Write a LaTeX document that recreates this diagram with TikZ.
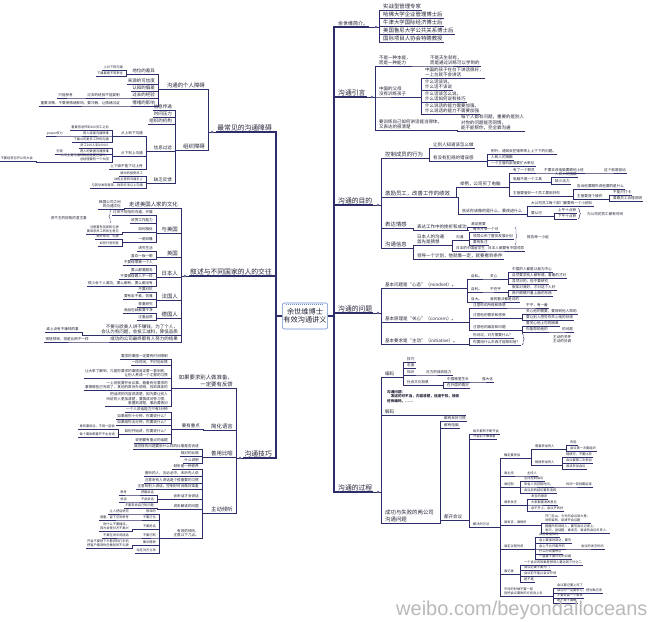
\documentclass[tikz,border=0pt]{standalone}
\usepackage{fontspec}
\setmainfont{Noto Sans CJK SC}
\newfontfamily\wmfont{Liberation Sans}
\usetikzlibrary{decorations.pathreplacing}
\definecolor{lc}{RGB}{45,45,105}
\definecolor{ink}{RGB}{35,35,55}
\definecolor{boxc}{RGB}{105,140,205}
\begin{document}
\begin{tikzpicture}[x=1pt, y=-1pt,
  rn/.style={anchor=south west, inner xsep=1pt, inner ysep=0.6pt, align=left, text=ink},
  ln/.style={anchor=south east, inner xsep=1pt, inner ysep=0.6pt, align=right, text=ink},
  fA/.style={font=\fontsize{6.8}{8}\selectfont},
  fB/.style={font=\fontsize{5.4}{7}\selectfont},
  fC/.style={font=\fontsize{4.5}{5.6}\selectfont},
  fD/.style={font=\fontsize{3.6}{4.8}\selectfont},
  fE/.style={font=\fontsize{3.2}{4.3}\selectfont},
  tk/.style={draw=lc, line width=1.3pt},
  lk/.style={draw=lc, line width=0.7pt},
  tn/.style={draw=lc, line width=0.4pt},
  br/.style={draw=lc, line width=0.4pt, decorate, decoration={brace, amplitude=2pt}}]
\useasboundingbox (0,0) rectangle (658,621);
% centre
\node[draw=boxc, line width=0.6pt, rounded corners=2pt, fill=white, minimum width=44pt, minimum height=26pt, inner sep=1pt, align=center, text=ink, font=\fontsize{7.2}{8}\selectfont] (ctr) at (305,316) {余世维博士\\有效沟通讲义};
\draw[boxc, line width=1pt, dash pattern=on 1pt off 1pt] ([xshift=4pt,yshift=-2pt]ctr.north west) -- ([xshift=-4pt,yshift=-2pt]ctr.north east);
% main branches
\node[rn,font=\fontsize{5}{6}\selectfont] (m1) at (337,27) {余世维简介。};
\node[rn,fA] (m2) at (337,97) {沟通引言};
\node[rn,fA] (m3) at (337,205) {沟通的目的};
\node[rn,fA] (m4) at (337,313) {沟通的问题};
\node[rn,fA] (m5) at (337,492) {沟通的过程};
\node[ln,fA] (n1) at (273,132) {最常见的沟通障碍};
\node[ln,fA] (n2) at (273,276) {叙述与不同国家的人的交往};
\node[ln,fA] (n3) at (273,458) {沟通技巧};
\foreach \ch in {m1,m2,m3,m4,m5} \draw[tk] (ctr.east) -| ([xshift=-3pt]\ch.south west) -- (\ch.south east);
\foreach \ch in {n1,n2,n3} \draw[tk] (ctr.west) -| ([xshift=3pt]\ch.south east) -- (\ch.south west);
% 余世维简介
\node[rn,fB] (m1a) at (382,10) {实战型管理专家};
\node[rn,fB] (m1b) at (382,18) {哈佛大学企业管理博士后};
\node[rn,fB] (m1c) at (382,26) {牛津大学国际经济博士后};
\node[rn,fB] (m1d) at (382,34) {美国鲁尼大学公共关系博士后};
\node[rn,fB] (m1e) at (382,42) {国际项目人协会特聘教授};
% 沟通引言
\node[rn,fC] (m2a) at (378,66) {不是一种本能，\\而是一种能力};
\node[rn,fC] (m2a1) at (429,66) {不是天生就有，\\而是通过训练可以学到的};
\node[rn,fC] (m2b) at (378,97) {中国的父母\\没有训练孩子};
\node[rn,fC] (m2b1) at (424,78) {中国的孩子在台下讲话很好，\\一上台就不会讲话};
\node[rn,fC] (m2b2) at (424,90) {什么话该说，\\什么话不该说};
\node[rn,fC] (m2b3) at (424,102) {什么话该怎么说，\\什么话如何说有技巧};
\node[rn,fC] (m2b4) at (424,114) {什么说话的能力需要加强，\\什么说话的能力不需要加强};
\node[rn,fC] (m2c) at (378,130) {要训练自己如何讲话能当得体，\\又表达的很清楚};
\node[rn,fC] (m2c1) at (460,131) {每个人都有问题，重要的是别人\\对你的问题能否同情，\\能不能帮你，完全靠沟通};
% 沟通的目的
\node[rn,fB] (m3a) at (384,158) {控制成员的行为};
\node[rn,fC] (m3a1) at (432,148) {让别人知道该怎么做};
\node[rn,fC] (m3a2) at (432,161) {有没有犯规的错误感};
\node[rn,fD] (m3a2a) at (490,154) {例外，通常会犯错带来上上下下的问题。};
\node[rn,fD] (m3a2b) at (490,160) {人和人的接触};
\node[rn,fD] (m3a2c) at (490,166) {一个主管的部落要扩大单位};
\node[rn,fB] (m3b) at (384,197) {激励员工，改善工作的绩效};
\node[rn,fC] (m3b1) at (459,187) {举例，公司买了电脑};
\node[rn,fD] (m3b1a) at (512,173) {有了一个职员};
\node[rn,fD] (m3b1a1) at (543,173) {不要去改电脑要跟他上班};
\node[rn,fD] (m3b1a2) at (603,173) {这个就是驱动};
\node[rn,fD] (m3b1b) at (512,182) {电脑不是一个工具};
\node[rn,fD] (m3b1b1) at (554,177) {人和人的接触};
\node[rn,fD] (m3b1b2) at (554,184) {缺少活力};
\node[rn,fD] (m3b1c) at (512,196) {主管要管好一个员工要用好你};
\node[rn,fD] (m3b1c1) at (576,189) {告诉他要跟你说他要的是什么};
\node[rn,fD] (m3b1c2) at (576,199) {主管要逐个操作};
\node[rn,fD] (m3b1c2a) at (612,195) {不能只打卡};
\node[rn,fD] (m3b1c2b) at (612,201) {要跟员工合理说明};
\node[rn,font=\fontsize{4}{5}\selectfont] (m3b2) at (461,214) {告诉你该做的是什么，要改进什么};
\node[rn,fD] (m3b2a) at (530,206) {大公司员工每个部门都要有一个小团队};
\node[rn,fD] (m3b2b) at (530,216) {要认可};
\node[rn,fD] (m3b2b1) at (557,213) {上午十点钟};
\node[rn,fD] (m3b2b2) at (557,219) {下午十点钟};
\node[rn,fD] (m3b2c) at (586,217) {为公司的员工都有时间};
\node[rn,fB] (m3c) at (384,228) {表达情感};
\node[rn,fC] (m3c1) at (416,230) {表达工作中的挫折和成功};
\node[rn,fD] (m3c1a) at (470,227) {满足需要};
\node[rn,fB] (m3d) at (384,248) {沟通信息};
\node[rn,fC] (m3d1) at (416,245) {日本人的沟通\\首先是猜想};
\node[rn,fD] (m3d1a) at (455,240) {沟通};
\node[rn,fD] (m3d1a1) at (472,232) {每天开会一个月};
\node[rn,fD] (m3d1a2) at (472,239) {领导公布了整体发展计划};
\node[rn,fD] (m3d1a3) at (472,245) {要有批注};
\node[rn,fD] (m3d1b) at (526,240) {报告单一小组};
\node[rn,fD] (m3d1c) at (455,251) {日本的中国留学生};
\node[rn,fD] (m3d1c1) at (487,251) {日本人都要有中国领导};
\node[rn,fC] (m3d2) at (416,259) {领导一个计划，他就像一定，就要看到条件};
% 沟通的问题
\node[rn,fC] (m4a) at (384,288) {基本问题是“心态”（mindset）。};
\node[rn,fD] (m4a1) at (470,279) {自私。};
\node[rn,fD] (m4a1a) at (489,279) {关心};
\node[rn,fD] (m4a1a1) at (511,272) {中国的人都是以我为中心};
\node[rn,fD] (m4a1a2) at (511,278) {自然要求别人都有情，看看的才对};
\node[rn,fD] (m4a1a3) at (511,284) {显然对的，但不要研究};
\node[rn,fD] (m4a2) at (470,292) {自利。};
\node[rn,fD] (m4a2a) at (489,292) {不在乎};
\node[rn,fD] (m4a2a1) at (511,290) {假如对我好，才对这个人好};
\node[rn,fD] (m4a2a2) at (511,296) {两只眼睛只看上面的东西};
\node[rn,fD] (m4a3) at (470,302) {自大。};
\node[rn,fD] (m4a3a) at (489,302) {我的看法都是对的};
\node[rn,fC] (m4b) at (384,322) {基本原理是“关心”（concern）。};
\node[rn,fD] (m4b1) at (472,308) {注意你的所得和情感};
\node[rn,fD] (m4b1a) at (525,308) {不平，有一番};
\node[rn,fD] (m4b2) at (472,318) {注意他的需求和感受};
\node[rn,fD] (m4b2a) at (525,314) {关心他的需要，要得到他人帮助};
\node[rn,fD] (m4b2b) at (525,320) {要让别人感觉你关心他的处境};
\node[rn,fD] (m4b3) at (472,330) {注意他的痛苦和问题};
\node[rn,fD] (m4b3a) at (525,326) {要关心他上司的困难};
\node[rn,fD] (m4b3b) at (525,332) {你能帮助他的};
\node[rn,fD] (m4b3b1) at (561,332) {的问题};
\node[rn,fC] (m4c) at (384,344) {基本要求是“主动”（initiative）。};
\node[rn,fD] (m4c1) at (472,338) {你问过，对方需要什么？};
\node[rn,fD] (m4c2) at (472,345) {你要用什么东西才能帮到他？};
\node[rn,fD] (m4c3) at (552,344) {主动的关怀\\主动的协调};
% 沟通的过程
\node[rn,fC] (m5a) at (384,377) {编码};
\node[rn,fD] (m5a1) at (406,362) {技巧};
\node[rn,fD] (m5a2) at (406,368) {态度};
\node[rn,fD] (m5a3) at (406,375) {知识};
\node[rn,fD] (m5a3a) at (425,375) {对方的接收能力};
\node[rn,fD] (m5a4) at (406,385) {社会文化背景};
\node[rn,fD] (m5a4a) at (446,382) {中国哪里生长};
\node[rn,fD] (m5a4a1) at (481,382) {强大化};
\node[rn,fD] (m5a4b) at (446,388) {在外国的情况};
\node[rn,font=\fontsize{3.6}{4.8}\selectfont\bfseries] (m5n) at (386,404) {沟通问题：\\\quad 发送的可不当，内容清楚，信道干扰，接收\\还有编码，……};
\node[rn,fC,text width=80pt] (m5b) at (384,415) {解码};
\node[rn,fB] (m5c) at (384,523) {成功与失败的两公司\\沟通问题};
\node[rn,fD] (m5c1) at (443,421) {都有良好习惯};
\node[rn,fD] (m5c2) at (443,428) {都有电脑};
\node[rn,fC] (m5c3) at (443,520) {都开会议};
\node[rn,fE] (m5c3a) at (472,434) {每天都有不断开会};
\node[rn,fE] (m5c3b) at (472,439) {开会前不做准备};
\node[rn,fE] (m5c3c) at (472,527) {解决的方法};
\node[rn,fE] (s1) at (503,458) {确定要参加};
\node[rn,fE] (s1a) at (534,449) {需要参加的人};
\node[rn,fE] (s1a1) at (569,445) {有用};
\node[rn,fE] (s1a2) at (569,451) {会议第一次要组织};
\node[rn,fE] (s1b) at (534,465) {随便参加的人};
\node[rn,fE] (s1b1) at (565,457) {随便可，不要比较};
\node[rn,fE] (s1b2) at (565,463) {会议要第二次参加};
\node[rn,fE] (s1b3) at (565,469) {谁该参加会议};
\node[rn,fE] (s2) at (503,476) {谁主持};
\node[rn,fE] (s2a) at (526,476) {主持人};
\node[rn,fE] (s3) at (503,487) {谁控制};
\node[rn,fE] (s3a) at (523,481) {主持控制会议};
\node[rn,fE] (s3b) at (523,487) {参会人员控制时间，};
\node[rn,fE] (s3b1) at (565,487) {时间一到就要结束};
\node[rn,fE] (s3c) at (523,493) {会议后的结论要有追踪};
\node[rn,fE] (s4) at (503,505) {谁来发言};
\node[rn,fE] (s4a) at (530,499) {发言的顺序};
\node[rn,fE] (s4b) at (530,505) {大家都要发表意见};
\node[rn,fE] (s4c) at (530,511) {会不开上，会议开的好};
\node[rn,fE] (s5) at (503,525) {谁发言，谁倾听};
\node[rn,fE] (s5a) at (544,523) {开门见山，今天的会议讲大意，\\说明目的，讲清开会议题};
\node[rn,fE] (s5b) at (544,533) {提醒所有到场人，要写会议记录上，\\发问，讲话题，谁发言，谁讲的会议负责人。};
\node[rn,fE] (s6) at (503,549) {谁定议程时间};
\node[rn,fE] (s6a) at (538,537) {会前要通知的};
\node[rn,fE] (s6b) at (538,543) {会上要准时到达，要先};
\node[rn,fE] (s6c) at (538,549) {会上不允许离开的};
\node[rn,fE] (s6c1) at (580,549) {会议的发言时间};
\node[rn,fE] (s6d) at (538,554) {什么时间要停止};
\node[rn,fE] (s6e) at (538,559) {一直要不要讨论的问题};
\node[rn,fE] (s7) at (503,574) {谁记录};
\node[rn,fE] (s7a) at (523,565) {一个会议的效果是领导人要达到三分之二};
\node[rn,fE] (s7b) at (523,570) {会议必要不要开门};
\node[rn,fE] (s7c) at (523,576) {会议前不能以会议开场};
\node[rn,fE] (s7d) at (523,582) {是不是};
\node[rn,fE] (s8) at (503,596) {平时的时候不要一回\\就把会议要改的方向向上去};
\node[rn,fE] (s8a) at (556,588) {会议要记要上司了};
\node[rn,fE] (s8b) at (556,593) {会议时一定要参与，把对象应该};
\node[rn,fE] (s8c) at (556,598) {不要安装一个板状};
\node[rn,fE] (s8d) at (556,603) {是不是不要做};
% right links
\foreach \pa/\ch in {m1/m1a,m1/m1b,m1/m1c,m1/m1d,m1/m1e,m2/m2a,m2/m2b,m2/m2c,m3/m3a,m3/m3b,m3/m3c,m3/m3d,
  m4/m4a,m4/m4b,m4/m4c,m5/m5a,m5/m5b,m5/m5c}
  \draw[lk] (\pa.south east) -| ([xshift=-2.5pt]\ch.south west) -- (\ch.south east);
\foreach \pa/\ch in {m2a/m2a1,m2b/m2b1,m2b/m2b2,m2b/m2b3,m2b/m2b4,m2c/m2c1,
  m3a/m3a1,m3a/m3a2,m3a2/m3a2a,m3a2/m3a2b,m3a2/m3a2c,m3b/m3b1,m3b/m3b2,m3b1/m3b1a,m3b1/m3b1b,m3b1/m3b1c,
  m3b1a/m3b1a1,m3b1a1/m3b1a2,m3b1b/m3b1b1,m3b1b/m3b1b2,m3b1c/m3b1c1,m3b1c/m3b1c2,m3b1c2/m3b1c2a,m3b1c2/m3b1c2b,
  m3b2/m3b2a,m3b2/m3b2b,m3b2b/m3b2b1,m3b2b/m3b2b2,m3c/m3c1,m3c1/m3c1a,m3d/m3d1,m3d/m3d2,m3d1/m3d1a,m3d1/m3d1c,
  m3d1a/m3d1a1,m3d1a/m3d1a2,m3d1a/m3d1a3,m3d1c/m3d1c1}
  \draw[tn] (\pa.south east) -| ([xshift=-2.5pt]\ch.south west) -- (\ch.south east);
\foreach \pa/\ch in {m4a/m4a1,m4a/m4a2,m4a/m4a3,m4a1/m4a1a,m4a1a/m4a1a1,m4a1a/m4a1a2,m4a1a/m4a1a3,m4a2/m4a2a,
  m4a2a/m4a2a1,m4a2a/m4a2a2,m4a3/m4a3a,m4b/m4b1,m4b/m4b2,m4b/m4b3,m4b1/m4b1a,m4b2/m4b2a,m4b2/m4b2b,
  m4b3/m4b3a,m4b3/m4b3b,m4b3b/m4b3b1,m4c/m4c1,m4c/m4c2,
  m5a/m5a1,m5a/m5a2,m5a/m5a3,m5a/m5a4,m5a3/m5a3a,m5a4/m5a4a,m5a4/m5a4b,m5a4a/m5a4a1,
  m5c/m5c1,m5c/m5c2,m5c/m5c3,m5c3/m5c3a,m5c3/m5c3b,m5c3/m5c3c}
  \draw[tn] (\pa.south east) -| ([xshift=-2.5pt]\ch.south west) -- (\ch.south east);
\foreach \pa/\ch in {m5c3c/s1,m5c3c/s2,m5c3c/s3,m5c3c/s4,m5c3c/s5,m5c3c/s6,m5c3c/s7,m5c3c/s8,
  s1/s1a,s1/s1b,s1a/s1a1,s1a/s1a2,s1b/s1b1,s1b/s1b2,s1b/s1b3,s2/s2a,s3/s3a,s3/s3b,s3/s3c,s3b/s3b1,
  s4/s4a,s4/s4b,s4/s4c,s5/s5a,s5/s5b,s6/s6a,s6/s6b,s6/s6c,s6/s6d,s6/s6e,s6c/s6c1,
  s7/s7a,s7/s7b,s7/s7c,s7/s7d,s8/s8a,s8/s8b,s8/s8c,s8/s8d}
  \draw[tn] (\pa.south east) -| ([xshift=-2.5pt]\ch.south west) -- (\ch.south east);
\draw[br] ([xshift=1pt]m3b2b1.north east) -- ([xshift=1pt]m3b2b2.south east);
\draw[br] ([xshift=1pt]m3d1a2.east |- m3d1a1.north) -- ([xshift=1pt]m3d1a2.east |- m3d1a3.south);
\draw[br] ([xshift=1pt]m4c2.east |- m4c1.north) -- ([xshift=1pt]m4c2.south east);
% 最常见的沟通障碍
\node[ln,fB] (n1a) at (206,89) {沟通的个人障碍};
\node[ln,fC] (n1a1) at (156,74) {地位的差异};
\node[ln,fE] (n1a1a) at (124,70) {上对下的沟通};
\node[ln,fE] (n1a1b) at (124,76) {下属要是不常来往};
\node[ln,fC] (n1a2) at (156,84) {来源的可信度};
\node[ln,fC] (n1a3) at (156,91) {认知的偏差};
\node[ln,fC] (n1a4) at (156,98) {过去的经验};
\node[ln,fD] (n1a4a) at (121,98) {过去的经验不能复制};
\node[ln,fD] (n1a4b) at (74,98) {只能参考};
\node[ln,fC] (n1a5) at (156,106) {情绪的影响};
\node[ln,fD] (n1a5a) at (121,106) {重要决策，不要受情绪影响，要冷静，让情绪沉淀};
\node[ln,fB] (n1b) at (206,150) {组织障碍};
\node[ln,fC] (n1b1) at (173,110) {信息传递};
\node[ln,fC] (n1b2) at (173,117) {时间压力};
\node[ln,fC] (n1b3) at (173,124) {组织的机构};
\node[ln,fC] (n1b4) at (173,151) {信息过滤};
\node[ln,fD] (n1b4a) at (144,136) {从上到下沟通};
\node[ln,fE] (n1b4a1) at (110,130) {重要信息传到100员工之后};
\node[ln,fE] (n1b4a2) at (110,136) {两人距离沟通很难};
\node[ln,fE] (n1b4a2a) at (64,136) {power权力};
\node[ln,fE] (n1b4a3) at (110,142) {下属公司更多工作的沟通};
\node[ln,fD] (n1b4b) at (144,156) {从下到上沟通};
\node[ln,fE] (n1b4b1) at (110,148) {员工100人到1000人};
\node[ln,fE] (n1b4b2) at (110,154) {两人的数据沟通很难};
\node[ln,fE] (n1b4b2a) at (64,154) {无视};
\node[ln,fE] (n1b4b3) at (110,162) {公司主要沟通的数据是要在高时，\\总经理要有一个大团};
\node[ln,fE] (n1b4b3a) at (34,161) {不要经常召开公司大会};
\node[ln,fD] (n1b4c) at (144,169) {上下级不能下达上传};
\node[ln,fC] (n1b5) at (173,183) {缺乏反馈};
\node[ln,fE] (n1b5a) at (144,176) {被动的接受员工};
\node[ln,fE] (n1b5b) at (144,182) {训练主管的沟通手上};
\node[ln,fE] (n1b5c) at (144,188) {与其中发现是非，找到方法以上沟通};
% 叙述与不同国家的人的交往
\node[ln,fB] (n2a) at (179,208) {走进美国人家的文化};
\node[ln,fD] (n2a1) at (122,209) {韩国公司之间\\的沟通文化};
\node[ln,fB] (n2b) at (179,233) {与美国};
\node[ln,fD] (n2b1) at (154,215) {讨厌不规范的沟通，开展};
\node[ln,fD] (n2b1a) at (88,221) {讲不主的规矩的意主事};
\node[ln,fD] (n2b2) at (154,223) {欣赏工作能力};
\node[ln,fD] (n2b3) at (154,232) {如何相处};
\node[ln,fE] (n2b3a) at (120,234) {注意要有创新和礼貌\\要讲求员工的民主意见};
\node[ln,fD] (n2b4) at (154,242) {一箭双雕};
\node[ln,fE] (n2b4a) at (120,239) {美好想法，礼貌};
\node[ln,fE] (n2b4b) at (120,246) {如何行进同者};
\node[ln,fB] (n2c) at (179,257) {英国};
\node[ln,fD] (n2c1) at (154,251) {讲究生活};
\node[ln,fD] (n2c2) at (154,259) {喜欢一板一眼};
\node[ln,fB] (n2d) at (179,277) {日本人};
\node[ln,fD] (n2d1) at (154,265) {不要得罪第一个人};
\node[ln,fD] (n2d2) at (154,273) {要么都要服务};
\node[ln,fD] (n2d3) at (154,279) {不要做得跟人不一样};
\node[ln,fD] (n2d4) at (154,286) {很少会个人邀功，要么都有，要么都没有};
\node[ln,fB] (n2e) at (179,300) {法国人};
\node[ln,fD] (n2e1) at (154,292) {不要对抗};
\node[ln,fD] (n2e2) at (154,299) {要有条不紊，优雅};
\node[ln,fD] (n2e3) at (154,307) {尊重研究};
\node[ln,fB] (n2f) at (179,318) {德国人};
\node[ln,fD] (n2f1) at (154,313) {商品包装都要干净};
\node[ln,fD] (n2f2) at (154,320) {注重品质};
\node[ln,fC] (n2g) at (179,335) {不要与欧美人讲不赚钱，为了个人，\\会认为有问题，会投工减料，降低品质};
\node[ln,fD] (n2g1) at (80,332) {桌上没有不赚钱的事};
\node[ln,fC] (n2h) at (179,342) {成功的公司最终都有人努力的结果};
\node[ln,fD] (n2h1) at (90,342) {很轻视钱，但是比例不一样};
% 沟通技巧
\node[ln,fB] (n3a) at (234,388) {如果要求别人做准备，\\一定要有反馈};
\node[ln,fD] (n3a1) at (169,359) {要求的事情一定要有时间限制};
\node[ln,fD] (n3a2) at (169,365) {一段时间，不时地反馈};
\node[ln,fD] (n3a3) at (169,378) {让大家了解到，凡是你要求的事情肯定要一直到底，\\让别人养成一个汇报的习惯};
\node[ln,fD] (n3a4) at (169,390) {一上班就要开会议事，看看有无要求的\\事情哪些已完成了，其他的再另外说明，找到具体的};
\node[ln,fD] (n3a5) at (169,406) {把话讲的内容说清楚，因为要让别人\\听说的人更加清楚，要搞成问答习惯，\\掌握到清楚，事后要再问};
\node[ln,fB] (n3b) at (234,430) {简化语言};
\node[ln,fC] (n3b1) at (201,429) {要有重点};
\node[ln,fD] (n3b1a) at (169,412) {一个人说话能力只有3分钟};
\node[ln,fD] (n3b1b) at (169,419) {如果给你十分钟，你要说什么？};
\node[ln,fD] (n3b1c) at (169,425) {如果给你五分钟，你要说什么？};
\node[ln,fD] (n3b1d) at (169,434) {如何开始讲，你要说什么？};
\node[ln,fE] (n3b1d1) at (116,429) {再有要说话，不用一起说};
\node[ln,fE] (n3b1d2) at (116,437) {每个要讲都要开不太合适};
\node[ln,fD] (n3b1e) at (169,443) {说明要有重点的话题};
\node[ln,fB] (n3c) at (234,457) {善用比喻};
\node[ln,fD] (n3c1) at (200,449) {我觉得的问题要用什么样的比喻是否合适};
\node[ln,fD] (n3c2) at (200,456) {相对的比喻};
\node[ln,fD] (n3c3) at (200,463) {什么说明};
\node[ln,fB] (n3d) at (234,513) {主动倾听};
\node[ln,fD] (n3d1) at (200,469) {倾听是一种修养};
\node[ln,fD] (n3d2) at (200,476) {善听的人，言必必中，未听先人说};
\node[ln,fD] (n3d3) at (200,483) {注意听别人讲话是个很重要的习惯};
\node[ln,fD] (n3d4) at (200,489) {注意听别人讲话，控制好时间做好准备};
\node[ln,fD] (n3d5) at (200,499) {会听话才会说话};
\node[ln,fE] (n3d5a) at (155,495) {把握讲话};
\node[ln,fE] (n3d5a1) at (128,495) {思考};
\node[ln,fE] (n3d5b) at (155,502) {不会讲话};
\node[ln,fE] (n3d5b1) at (128,502) {说话};
\node[ln,fD] (n3d6) at (200,509) {说听解读的问题};
\node[ln,fE] (n3d6a) at (155,508) {不要常说自己的问题};
\node[ln,fD] (n3d7) at (200,538) {有效的倾听，\\注意以下几点。};
\node[ln,fE] (n3d7a) at (157,514) {很深的};
\node[ln,fE] (n3d7a1) at (130,514) {让人把话说完};
\node[ln,fE] (n3d7b) at (157,520) {不要打岔};
\node[ln,fE] (n3d7b1) at (130,520) {尊重，留下空间思考};
\node[ln,fE] (n3d7c) at (157,529) {不要抢话};
\node[ln,fE] (n3d7c1) at (130,531) {说什么不要插话，\\因为会使对方不高兴};
\node[ln,fE] (n3d7d) at (157,538) {不要打断};
\node[ln,fE] (n3d7d1) at (130,538) {不要在说中间插话};
\node[ln,fE] (n3d7e) at (157,545) {集中精神};
\node[ln,fE] (n3d7e1) at (130,548) {开会不要低下头看资料打手机\\把客户看到你在做别的不礼貌};
\node[ln,fE] (n3d7f) at (157,553) {站在对方立场};
% left links
\foreach \pa/\ch in {n1/n1a,n1/n1b,n2/n2a,n2/n2b,n2/n2c,n2/n2d,n2/n2e,n2/n2f,n2/n2g,n2/n2h,n3/n3a,n3/n3b,n3/n3c,n3/n3d}
  \draw[lk] (\pa.south west) -| ([xshift=2.5pt]\ch.south east) -- (\ch.south west);
\foreach \pa/\ch in {n1a/n1a1,n1a/n1a2,n1a/n1a3,n1a/n1a4,n1a/n1a5,n1a1/n1a1a,n1a1/n1a1b,n1a4/n1a4a,n1a4a/n1a4b,n1a5/n1a5a,
  n1b/n1b1,n1b/n1b2,n1b/n1b3,n1b/n1b4,n1b/n1b5,n1b4/n1b4a,n1b4/n1b4b,n1b4/n1b4c,n1b4a/n1b4a1,n1b4a/n1b4a2,n1b4a/n1b4a3,
  n1b4a2/n1b4a2a,n1b4b/n1b4b1,n1b4b/n1b4b2,n1b4b/n1b4b3,n1b4b2/n1b4b2a,n1b4b3/n1b4b3a,n1b5/n1b5a,n1b5/n1b5b,n1b5/n1b5c}
  \draw[tn] (\pa.south west) -| ([xshift=2.5pt]\ch.south east) -- (\ch.south west);
\foreach \pa/\ch in {n2a/n2a1,n2b/n2b1,n2b/n2b2,n2b/n2b3,n2b/n2b4,n2b3/n2b3a,n2b4/n2b4a,n2b4/n2b4b,n2c/n2c1,n2c/n2c2,
  n2d/n2d1,n2d/n2d2,n2d/n2d3,n2d/n2d4,n2e/n2e1,n2e/n2e2,n2e/n2e3,n2f/n2f1,n2f/n2f2,n2g/n2g1,n2h/n2h1}
  \draw[tn] (\pa.south west) -| ([xshift=2.5pt]\ch.south east) -- (\ch.south west);
\foreach \pa/\ch in {n3a/n3a1,n3a/n3a2,n3a/n3a3,n3a/n3a4,n3a/n3a5,n3b/n3b1,n3b1/n3b1a,n3b1/n3b1b,n3b1/n3b1c,n3b1/n3b1d,n3b1/n3b1e,
  n3b1d/n3b1d1,n3b1d/n3b1d2,n3c/n3c1,n3c/n3c2,n3c/n3c3,n3d/n3d1,n3d/n3d2,n3d/n3d3,n3d/n3d4,n3d/n3d5,n3d/n3d6,n3d/n3d7,
  n3d5/n3d5a,n3d5/n3d5b,n3d5a/n3d5a1,n3d5b/n3d5b1,n3d6/n3d6a,n3d7/n3d7a,n3d7/n3d7b,n3d7/n3d7c,n3d7/n3d7d,n3d7/n3d7e,n3d7/n3d7f,
  n3d7a/n3d7a1,n3d7b/n3d7b1,n3d7c/n3d7c1,n3d7d/n3d7d1,n3d7e/n3d7e1}
  \draw[tn] (\pa.south west) -| ([xshift=2.5pt]\ch.south east) -- (\ch.south west);
\draw[br] ([xshift=-1pt]n2b1.west |- n2b2.south) -- ([xshift=-1pt]n2b1.north west);
% fold marks
\foreach \pa/\ch in {m1/m1a,m2/m2a,m3/m3a,m4/m4a,m5/m5a}
  \filldraw[draw=lc, fill=white, line width=0.4pt] ([xshift=-6pt]\ch.south west |- \pa.south) circle (1.2pt);
\foreach \pa/\ch in {n1/n1a,n2/n2a,n3/n3a}
  \filldraw[draw=lc, fill=white, line width=0.4pt] ([xshift=6pt]\ch.south east |- \pa.south) circle (1.2pt);
% watermark
\node[anchor=base west, inner sep=0pt, text=gray!55, font=\wmfont\fontsize{20}{20}\selectfont] (wm) at (396,615) {weibo.com/beyondalloceans};
\end{tikzpicture}
\end{document}
